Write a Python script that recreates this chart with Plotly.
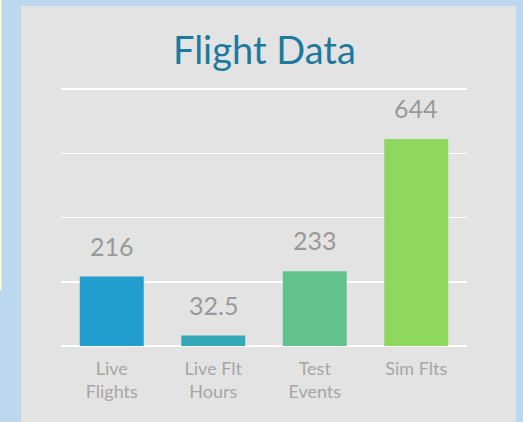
import plotly.graph_objects as go

categories = ["Live<br>Flights", "Live Flt<br>Hours", "Test<br>Events", "Sim Flts"]
values = [216, 32.5, 233, 644]
value_labels = ["216", "32.5", "233", "644"]
bar_colors = ["#229ECE", "#34A8B6", "#62C28B", "#8FD860"]
y_ticks = [0, 200, 400, 600, 800]

W, H = 523, 422
L, R, T, B = 61, 467, 84, 346
scale = (346 - 89) / 800.0  # px per unit
y_top = (B - T) / scale
pw, ph = R - L, B - T

def px(x):
    return (x - L) / pw

def py(y):
    return (B - y) / ph

fig = go.Figure()
fig.add_trace(go.Bar(
    x=categories, y=values,
    marker=dict(color=bar_colors, line=dict(width=0)),
    hoverinfo="skip",
))

for c, v, t in zip(categories, values, value_labels):
    fig.add_annotation(x=c, y=v, text=t, showarrow=False, yanchor="bottom",
                       yshift=14, font=dict(family="Lato", size=25, color="#999999"))

fig.add_annotation(xref="paper", yref="paper", x=0.5, y=py(49), text="Flight Data",
                   showarrow=False, yanchor="middle",
                   font=dict(family="Lato", size=38, color="#1B7A9E"))

# gray panel
fig.add_shape(type="rect", xref="paper", yref="paper", layer="below",
              x0=px(21), x1=px(516), y0=py(430), y1=py(6),
              fillcolor="#E3E3E3", line=dict(width=0))
# thin pale strip at left edge
fig.add_shape(type="rect", xref="paper", yref="paper", layer="below",
              x0=px(-1), x1=px(1.5), y0=py(290), y1=py(-1),
              fillcolor="#FFFFD0", line=dict(width=0))

fig.update_layout(
    width=W, height=H,
    margin=dict(l=L, r=W - R, t=T, b=H - B, pad=0),
    paper_bgcolor="#BDD7EE",
    plot_bgcolor="rgba(0,0,0,0)",
    bargap=0.37,
    showlegend=False,
    font=dict(family="Lato"),
)
fig.update_xaxes(showgrid=False, showline=False, ticks="",
                 tickfont=dict(family="Lato", size=18, color="#A6A6A6"),
                 ticklabelstandoff=10,
                 fixedrange=True)
fig.update_yaxes(range=[0, y_top], tickvals=y_ticks, showticklabels=False,
                 showgrid=True, gridcolor="#FFFFFF", gridwidth=1.5,
                 zeroline=True, zerolinecolor="#FFFFFF", zerolinewidth=1.5,
                 showline=False, fixedrange=True)

fig.write_html("out.html",
               config={"displayModeBar": False, "staticPlot": True},
               post_script="document.body.style.margin='0';document.body.style.background='#BDD7EE';document.body.style.overflow='hidden';")
